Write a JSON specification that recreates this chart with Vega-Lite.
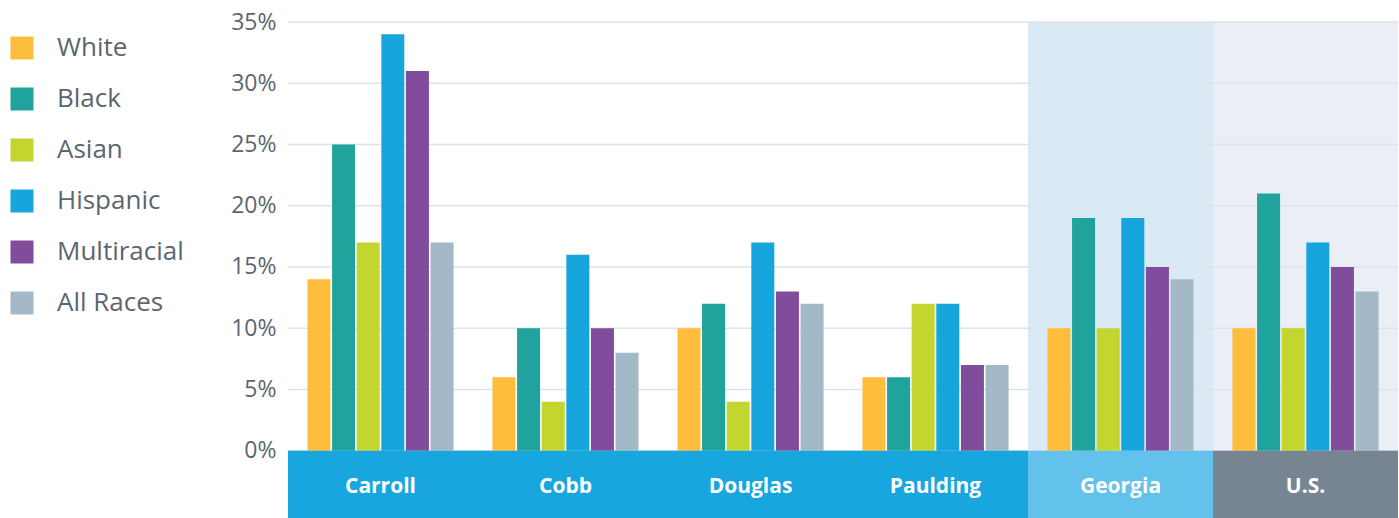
{
  "$schema": "https://vega.github.io/schema/vega-lite/v6.json",
  "width": 1110,
  "height": 496,
  "autosize": {"type": "none"},
  "padding": {"left": 288, "top": 22, "right": 1, "bottom": 0},
  "background": "white",
  "config": {"view": {"stroke": null}, "font": "Lato"},
  "datasets": {
    "bars": [
      {"county": "Carroll", "race": "White", "value": 14},
      {"county": "Carroll", "race": "Black", "value": 25},
      {"county": "Carroll", "race": "Asian", "value": 17},
      {"county": "Carroll", "race": "Hispanic", "value": 34},
      {"county": "Carroll", "race": "Multiracial", "value": 31},
      {"county": "Carroll", "race": "All Races", "value": 17},
      {"county": "Cobb", "race": "White", "value": 6},
      {"county": "Cobb", "race": "Black", "value": 10},
      {"county": "Cobb", "race": "Asian", "value": 4},
      {"county": "Cobb", "race": "Hispanic", "value": 16},
      {"county": "Cobb", "race": "Multiracial", "value": 10},
      {"county": "Cobb", "race": "All Races", "value": 8},
      {"county": "Douglas", "race": "White", "value": 10},
      {"county": "Douglas", "race": "Black", "value": 12},
      {"county": "Douglas", "race": "Asian", "value": 4},
      {"county": "Douglas", "race": "Hispanic", "value": 17},
      {"county": "Douglas", "race": "Multiracial", "value": 13},
      {"county": "Douglas", "race": "All Races", "value": 12},
      {"county": "Paulding", "race": "White", "value": 6},
      {"county": "Paulding", "race": "Black", "value": 6},
      {"county": "Paulding", "race": "Asian", "value": 12},
      {"county": "Paulding", "race": "Hispanic", "value": 12},
      {"county": "Paulding", "race": "Multiracial", "value": 7},
      {"county": "Paulding", "race": "All Races", "value": 7},
      {"county": "Georgia", "race": "White", "value": 10},
      {"county": "Georgia", "race": "Black", "value": 19},
      {"county": "Georgia", "race": "Asian", "value": 10},
      {"county": "Georgia", "race": "Hispanic", "value": 19},
      {"county": "Georgia", "race": "Multiracial", "value": 15},
      {"county": "Georgia", "race": "All Races", "value": 14},
      {"county": "U.S.", "race": "White", "value": 10},
      {"county": "U.S.", "race": "Black", "value": 21},
      {"county": "U.S.", "race": "Asian", "value": 10},
      {"county": "U.S.", "race": "Hispanic", "value": 17},
      {"county": "U.S.", "race": "Multiracial", "value": 15},
      {"county": "U.S.", "race": "All Races", "value": 13}
    ],
    "groups": [
      {"county": "Carroll"}, {"county": "Cobb"}, {"county": "Douglas"},
      {"county": "Paulding"}, {"county": "Georgia"}, {"county": "U.S."}
    ],
    "grid": [
      {"tick": 0}, {"tick": 5}, {"tick": 10}, {"tick": 15},
      {"tick": 20}, {"tick": 25}, {"tick": 30}, {"tick": 35}
    ]
  },
  "encoding": {
    "x": {
      "field": "county", "type": "nominal",
      "sort": ["Carroll", "Cobb", "Douglas", "Paulding", "Georgia", "U.S."],
      "scale": {"domain": ["Carroll", "Cobb", "Douglas", "Paulding", "Georgia", "U.S."], "paddingInner": 0, "paddingOuter": 0},
      "axis": null
    }
  },
  "layer": [
    {
      "data": {"name": "groups"},
      "transform": [{"filter": "datum.county == 'Georgia' || datum.county == 'U.S.'"}],
      "mark": {"type": "bar", "cornerRadius": 0},
      "encoding": {
        "y": {"datum": 35, "type": "quantitative", "scale": {"domain": [-5.5, 35], "nice": false, "zero": false},
          "axis": {"values": [0, 5, 10, 15, 20, 25, 30, 35], "labelExpr": "datum.value + '%'", "grid": false, "domain": false, "ticks": false, "labelPadding": 12, "labelFontSize": 23, "labelColor": "#5b6670", "labelFont": "Open Sans", "title": null}},
        "y2": {"datum": 0},
        "color": {"condition": {"test": "datum.county == 'Georgia'", "value": "#d9eaf5"}, "value": "#ebeef4"}
      }
    },
    {
      "data": {"name": "grid"},
      "mark": {"type": "rule", "color": "#dde3ec", "strokeWidth": 1.5},
      "encoding": {"y": {"field": "tick", "type": "quantitative"}, "x": null}
    },
    {
      "data": {"name": "bars"},
      "mark": {"type": "bar"},
      "encoding": {
        "xOffset": {"field": "race", "type": "nominal",
          "sort": ["White", "Black", "Asian", "Hispanic", "Multiracial", "All Races"],
          "scale": {"domain": ["White", "Black", "Asian", "Hispanic", "Multiracial", "All Races"], "paddingInner": 0.065, "paddingOuter": 0.79}},
        "y": {"field": "value", "type": "quantitative"},
        "color": {"field": "race", "type": "nominal",
          "sort": ["White", "Black", "Asian", "Hispanic", "Multiracial", "All Races"],
          "scale": {"domain": ["White", "Black", "Asian", "Hispanic", "Multiracial", "All Races"],
            "range": ["#febe3c", "#1fa39c", "#c3d52f", "#17a5de", "#804c9b", "#a3b9c8"]},
          "legend": {"orient": "none", "legendX": -279, "legendY": 13, "title": null, "symbolType": "square", "symbolSize": 529, "symbolStrokeWidth": 0, "symbolOpacity": 1, "labelFontSize": 26, "labelColor": "#5b6670", "labelFont": "Open Sans", "labelOffset": 22, "rowPadding": 25, "padding": 0}}
      }
    },
    {
      "data": {"name": "groups"},
      "mark": {"type": "bar"},
      "encoding": {
        "y": {"datum": 0},
        "y2": {"datum": -5.5},
        "color": {"condition": [
          {"test": "datum.county == 'Georgia'", "value": "#62c2eb"},
          {"test": "datum.county == 'U.S.'", "value": "#778592"}
        ], "value": "#18a6df"}
      }
    },
    {
      "data": {"name": "groups"},
      "mark": {"type": "text", "color": "white", "fontSize": 21, "fontWeight": "bold", "font": "Open Sans", "baseline": "middle"},
      "encoding": {
        "y": {"datum": -3.0},
        "text": {"field": "county", "type": "nominal"}
      }
    }
  ]
}
